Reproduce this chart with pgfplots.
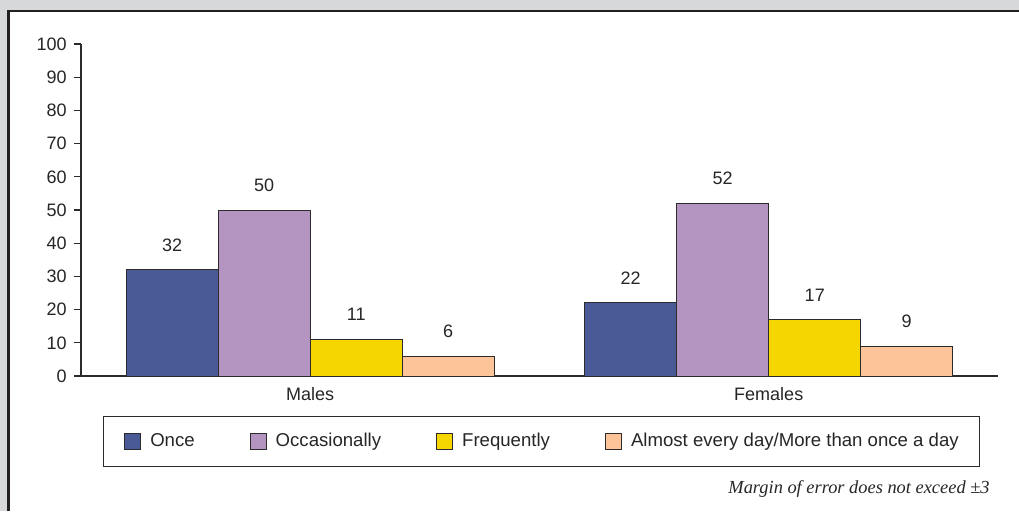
\documentclass[border=0pt]{standalone}
\usepackage{fontspec}
\setmainfont{Liberation Sans}
\newfontfamily\notefont{Liberation Serif}
\usepackage{pgfplots}
\pgfplotsset{compat=1.18}

\definecolor{pageGray}{RGB}{215,216,218}
\definecolor{frameDark}{RGB}{35,31,32}
\definecolor{edgeDark}{RGB}{45,42,44}
\definecolor{cOnce}{RGB}{74,90,150}
\definecolor{cOcc}{RGB}{180,148,192}
\definecolor{cFreq}{RGB}{246,214,0}
\definecolor{cDaily}{RGB}{253,196,153}

\begin{document}
\begin{tikzpicture}
% page background and frame (1 px = 0.5pt)
\useasboundingbox (0,0) rectangle (509.5pt,255.5pt);
\fill[pageGray] (0,0) rectangle (509.5pt,255.5pt);
\fill[white] (4.25pt,0) rectangle (509.5pt,250pt);
\draw[frameDark, line width=1.3pt] (4.25pt,0) -- (4.25pt,250pt) -- (509.5pt,250pt);

\begin{axis}[
    at={(40.5pt,67.5pt)}, anchor=south west,
    scale only axis,
    width=458.5pt, height=166pt,
    ybar=0pt, bar width=46pt,
    xmin=-0.5, xmax=1.5,
    ymin=0, ymax=100,
    xtick={0,1}, xticklabels={Males,Females},
    ytick={0,10,...,100},
    axis x line*=bottom, axis y line*=left,
    axis line style={-, draw=edgeDark, line width=0.65pt},
    tick align=outside,
    major tick length=3.5pt,
    ytick style={draw=edgeDark, line width=0.65pt},
    xtick style={draw=none},
    tick label style={font=\fontsize{9}{10}\selectfont, text=black!85},
    /pgf/number format/assume math mode=true,
    yticklabel style={inner sep=0pt, xshift=-3.5pt},
    xticklabel style={inner sep=0pt, yshift=-2pt},
    nodes near coords,
    every node near coord/.append style={font=\fontsize{9}{10}\selectfont, text=black!85, inner sep=0pt, anchor=south, yshift=9pt},
    legend columns=4,
    legend style={at={(0.5022,-0.1975)}, anchor=center,
        draw=edgeDark, line width=0.6pt,
        font=\fontsize{9.3}{11}\selectfont,
        inner xsep=10.5pt, inner ysep=8.2pt,
        nodes={inner sep=0pt, text=black!85},
        /tikz/every odd column/.append style={column sep=4.5pt},
        /tikz/every even column/.append style={column sep=27.5pt}},
    legend image code/.code={\draw[#1, draw=edgeDark, line width=0.5pt] (0pt,-4pt) rectangle (8pt,4pt);},
    clip=false,
]
\addplot[fill=cOnce, draw=edgeDark, line width=0.5pt, bar shift=-69pt] coordinates {(0,32) (1,22)};
\addplot[fill=cOcc, draw=edgeDark, line width=0.5pt, bar shift=-23pt] coordinates {(0,50) (1,52)};
\addplot[fill=cFreq, draw=edgeDark, line width=0.5pt, bar shift=23pt] coordinates {(0,11) (1,17)};
\addplot[fill=cDaily, draw=edgeDark, line width=0.5pt, bar shift=69pt] coordinates {(0,6) (1,9)};
\legend{Once, Occasionally, Frequently, Almost every day/More than once a day}
\end{axis}

\node[anchor=east, inner sep=0pt, font=\notefont\itshape\fontsize{9.2}{10}\selectfont, text=black!85] at (495pt,11pt) {Margin of error does not exceed \textpm3};
\end{tikzpicture}
\end{document}
